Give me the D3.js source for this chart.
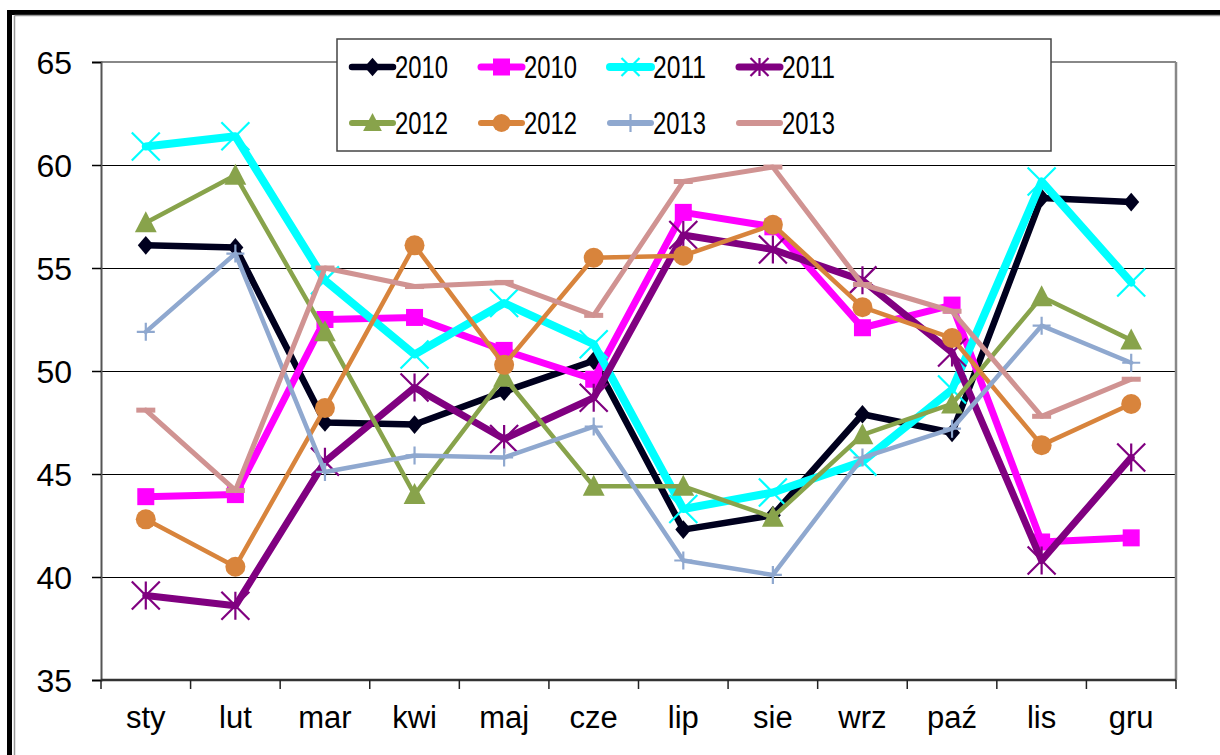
<!DOCTYPE html>
<html>
<head>
<meta charset="utf-8">
<script src="https://cdn.jsdelivr.net/npm/d3@7"></script>
<style>
  body { margin: 0; background: #fff; }
  svg { display: block; font-family: "Liberation Sans", Arial, sans-serif; }
</style>
</head>
<body>
<div id="chart"></div>
<script>
const months = ['sty', 'lut', 'mar', 'kwi', 'maj', 'cze', 'lip', 'sie', 'wrz', 'paź', 'lis', 'gru']
const yTicks = [35, 40, 45, 50, 55, 60, 65]

const s2010a = [56.1, 56.0, 47.5, 47.4, 49.0, 50.5, 42.3, 43.0, 47.9, 47.0, 58.4, 58.2]
const s2010b = [43.9, 44.0, 52.5, 52.6, 51.0, 49.6, 57.7, 57.0, 52.1, 53.2, 41.7, 41.9]
const s2011a = [60.9, 61.4, 54.4, 50.8, 53.3, 51.3, 43.3, 44.1, 45.6, 49.1, 59.2, 54.3]
const s2011b = [39.1, 38.6, 45.6, 49.2, 46.7, 48.7, 56.6, 55.9, 54.4, 50.9, 40.8, 45.8]
const s2012a = [57.2, 59.5, 51.9, 44.0, 49.7, 44.4, 44.4, 42.9, 46.9, 48.4, 53.6, 51.5]
const s2012b = [42.8, 40.5, 48.2, 56.1, 50.3, 55.5, 55.6, 57.1, 53.1, 51.6, 46.4, 48.4]
const s2013a = [51.9, 55.7, 45.1, 45.9, 45.8, 47.3, 40.8, 40.1, 45.8, 47.2, 52.2, 50.4]
const s2013b = [48.1, 44.2, 55.0, 54.1, 54.3, 52.7, 59.2, 59.9, 54.2, 52.9, 47.8, 49.6]

const seriesNames = ['2010', '2010', '2011', '2011', '2012', '2012', '2013', '2013']
const seriesValues = [s2010a, s2010b, s2011a, s2011b, s2012a, s2012b, s2013a, s2013b]
const seriesColors = ['#00001e', '#ff00ff', '#00ffff', '#800080', '#88a34b', '#d8843c', '#8fa8cf', '#d09392']
const seriesWidths = [6.5, 7, 8, 7, 4.5, 4.5, 4.5, 5]
const seriesMarkers = ['diamond', 'square', 'x', 'star', 'triangle', 'circle', 'plus', 'dash']

const W = 1220, H = 755
const plotLeft = 101, plotRight = 1176, plotTop = 62, plotBottom = 680

const svg = d3.select('#chart').append('svg')
  .attr('width', W)
  .attr('height', H)

// outer frame (double line, cut by the window)
svg.append('rect').attr('x', 7).attr('y', 10).attr('width', W).attr('height', 5).attr('fill', '#000')
svg.append('rect').attr('x', 7).attr('y', 10).attr('width', 5).attr('height', H).attr('fill', '#000')
svg.append('line').attr('x1', 14.5).attr('x2', W).attr('y1', 15.5).attr('y2', 15.5)
  .attr('stroke', '#999').attr('stroke-width', 1.5)
svg.append('line').attr('x1', 14.5).attr('x2', 14.5).attr('y1', 15.5).attr('y2', H)
  .attr('stroke', '#999').attr('stroke-width', 1.5)

const x = d3.scaleBand().domain(months).range([plotLeft, plotRight])
const cx = m => x(m) + x.bandwidth() / 2
const y = d3.scaleLinear().domain([35, 65]).range([plotBottom, plotTop])

// gridlines
svg.append('g')
  .attr('transform', `translate(${plotLeft},0)`)
  .call(d3.axisLeft(y).tickValues(yTicks.slice(1, -1)).tickSize(-(plotRight - plotLeft)).tickFormat(''))
  .call(g => g.select('.domain').remove())
  .call(g => g.selectAll('line').attr('stroke', '#000').attr('stroke-width', 1.2))

// plot border top/right
svg.append('line').attr('x1', plotLeft).attr('x2', plotRight).attr('y1', plotTop).attr('y2', plotTop)
  .attr('stroke', '#888').attr('stroke-width', 2)
svg.append('line').attr('x1', plotRight).attr('x2', plotRight).attr('y1', plotTop).attr('y2', plotBottom)
  .attr('stroke', '#888').attr('stroke-width', 2.5)

// y axis
svg.append('g')
  .attr('transform', `translate(${plotLeft},0)`)
  .call(d3.axisLeft(y).tickValues(yTicks).tickSize(9).tickPadding(20))
  .call(g => g.select('.domain').attr('stroke', '#555').attr('stroke-width', 2))
  .call(g => g.selectAll('.tick line').attr('stroke', '#000').attr('stroke-width', 1.5))
  .call(g => g.selectAll('text').attr('fill', '#000').attr('font-size', 32)
    .attr('font-family', '"Liberation Sans", Arial, sans-serif').attr('dy', '0.35em'))

// x axis line and ticks at band edges
svg.append('line').attr('x1', plotLeft).attr('x2', plotRight).attr('y1', plotBottom).attr('y2', plotBottom)
  .attr('stroke', '#333').attr('stroke-width', 2.5)
const edges = months.map(m => x(m)).concat([x.range()[1]])
svg.append('g').selectAll('line').data(edges).enter().append('line')
  .attr('x1', d => d).attr('x2', d => d)
  .attr('y1', plotBottom).attr('y2', plotBottom + 9)
  .attr('stroke', '#222').attr('stroke-width', 1.5)
svg.append('g').selectAll('text').data(months).enter().append('text')
  .attr('x', d => cx(d))
  .attr('y', 728)
  .attr('text-anchor', 'middle')
  .attr('font-size', 31)
  .attr('fill', '#000')
  .text(d => d)

function drawMarker(g, type, color, size) {
  const s = size
  if (type === 'diamond') {
    g.append('path').attr('d', `M0,${-s * 0.55}L${s * 0.47},0L0,${s * 0.55}L${-s * 0.47},0Z`).attr('fill', color)
  } else if (type === 'square') {
    g.append('rect').attr('x', -s / 2).attr('y', -s / 2).attr('width', s).attr('height', s).attr('fill', color)
  } else if (type === 'x') {
    g.append('path').attr('d', `M${-s / 2},${-s / 2}L${s / 2},${s / 2}M${s / 2},${-s / 2}L${-s / 2},${s / 2}`)
      .attr('stroke', color).attr('stroke-width', 2.2)
  } else if (type === 'star') {
    g.append('path').attr('d', `M${-s / 2},${-s / 2}L${s / 2},${s / 2}M${s / 2},${-s / 2}L${-s / 2},${s / 2}M0,${-s / 2}L0,${s / 2}`)
      .attr('stroke', color).attr('stroke-width', 2.2)
  } else if (type === 'triangle') {
    g.append('path').attr('d', `M0,${-s * 0.55}L${s * 0.52},${s * 0.45}L${-s * 0.52},${s * 0.45}Z`).attr('fill', color)
  } else if (type === 'circle') {
    g.append('circle').attr('r', s / 2).attr('fill', color)
  } else if (type === 'plus') {
    g.append('path').attr('d', `M${-s / 2},0L${s / 2},0M0,${-s / 2}L0,${s / 2}`)
      .attr('stroke', color).attr('stroke-width', 2.2)
  } else if (type === 'dash') {
    g.append('rect').attr('x', -s / 2).attr('y', -2.5).attr('width', s).attr('height', 5).attr('fill', color)
  }
}
const markerSizes = { diamond: 17, square: 17, x: 28, star: 28, triangle: 21, circle: 20, plus: 18, dash: 19 }

const line = d3.line().x((d, i) => cx(months[i])).y(d => y(d))

seriesValues.forEach((vals, si) => {
  const g = svg.append('g')
  g.append('path').datum(vals)
    .attr('d', line)
    .attr('fill', 'none')
    .attr('stroke', seriesColors[si])
    .attr('stroke-width', seriesWidths[si])
    .attr('stroke-linejoin', 'round')
    .attr('stroke-linecap', 'round')
  vals.forEach((v, i) => {
    const mg = g.append('g').attr('transform', `translate(${cx(months[i])},${y(v)})`)
    drawMarker(mg, seriesMarkers[si], seriesColors[si], markerSizes[seriesMarkers[si]])
  })
})

// legend
const lg = svg.append('g')
lg.append('rect').attr('x', 337).attr('y', 39).attr('width', 714).attr('height', 112)
  .attr('fill', '#fff').attr('stroke', '#444').attr('stroke-width', 1.5)
seriesNames.forEach((name, i) => {
  const col = i % 4, row = Math.floor(i / 4)
  const lx = 352 + col * 129, ly = 67 + row * 56
  const item = lg.append('g')
  item.append('line').attr('x1', lx).attr('x2', lx + 41).attr('y1', ly).attr('y2', ly)
    .attr('stroke', seriesColors[i]).attr('stroke-width', Math.max(seriesWidths[i], 6))
    .attr('stroke-linecap', 'round')
  const mg = item.append('g').attr('transform', `translate(${lx + 20.5},${ly})`)
  drawMarker(mg, seriesMarkers[i], seriesColors[i], Math.min(markerSizes[seriesMarkers[i]], 18))
  item.append('text').attr('x', lx + 43).attr('y', ly + 11)
    .attr('font-size', 32)
    .attr('textLength', 53)
    .attr('lengthAdjust', 'spacingAndGlyphs')
    .attr('fill', '#000')
    .text(name)
})
</script>
</body>
</html>
